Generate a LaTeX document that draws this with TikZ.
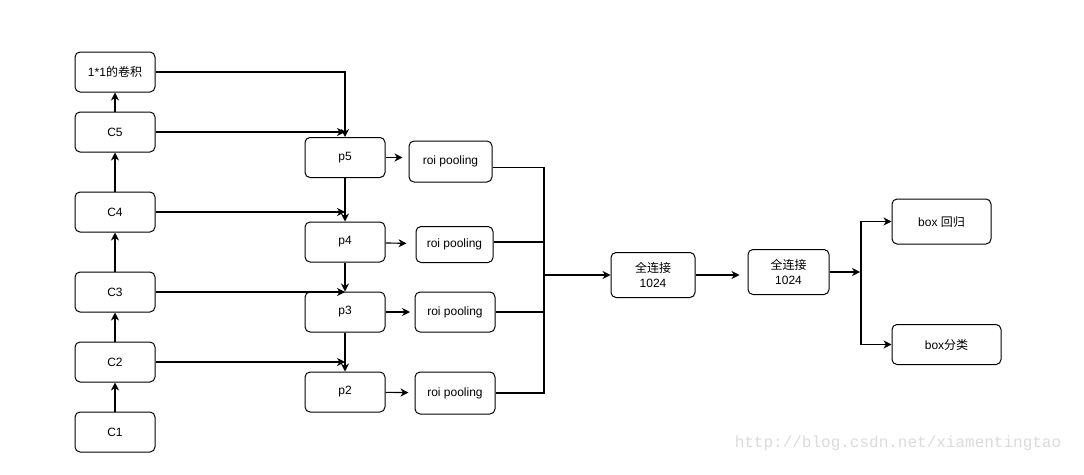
\documentclass[tikz,border=0pt]{standalone}
\usepackage{fontspec}
\setmainfont{Liberation Sans}
\newfontfamily\cjk{Noto Sans CJK SC}
\newfontfamily\wmfont{Liberation Mono}
\usetikzlibrary{arrows.meta}
\begin{document}
\begin{tikzpicture}[x=1pt,y=-1pt,
  box/.style={draw, line width=1pt, rounded corners=5pt, inner sep=0pt, align=center,
    font=\fontsize{12}{15}\selectfont},
  conn/.style={line width=1.1pt},
  arr/.style={line width=1.1pt, -{Stealth[length=8pt,width=8pt,inset=2.5pt]}}]
\fill[white] (0,0) rectangle (1084,474);
\useasboundingbox (0,0) rectangle (1084,474);
% left column
\node[box, minimum width=80pt, minimum height=40pt] (k)  at (115,72)  {1*1{\cjk 的卷积}};
\node[box, minimum width=80pt, minimum height=40pt] (c5) at (115,132) {C5};
\node[box, minimum width=80pt, minimum height=40pt] (c4) at (115,212) {C4};
\node[box, minimum width=80pt, minimum height=40pt] (c3) at (115,292) {C3};
\node[box, minimum width=80pt, minimum height=40pt] (c2) at (115,362) {C2};
\node[box, minimum width=80pt, minimum height=40pt] (c1) at (115,432) {C1};
% p column
\node[box, minimum width=80pt, minimum height=40pt] (p5) at (345,157.5) {p5};
\node[box, minimum width=80pt, minimum height=40pt] (p4) at (345,242) {p4};
\node[box, minimum width=80pt, minimum height=40pt] (p3) at (345,312) {p3};
\node[box, minimum width=80pt, minimum height=40pt] (p2) at (345,392) {p2};
% roi pooling
\node[box, minimum width=83pt, minimum height=41pt] (r5) at (450.5,161.5) {roi pooling};
\node[box, minimum width=77pt, minimum height=36pt] (r4) at (454.5,244.5) {roi pooling};
\node[box, minimum width=80pt, minimum height=40pt] (r3) at (455,312) {roi pooling};
\node[box, minimum width=80pt, minimum height=42pt] (r2) at (455,393) {roi pooling};
% fc
\node[box, minimum width=84pt, minimum height=45pt] (f1) at (653,275) {{\cjk 全连接}\\1024};
\node[box, minimum width=81pt, minimum height=45pt] (f2) at (788.5,272) {{\cjk 全连接}\\1024};
% outputs
\node[box, minimum width=99pt, minimum height=45pt] (b1) at (941.5,221.5) {box {\cjk 回归}};
\node[box, minimum width=109pt, minimum height=40pt] (b2) at (946.5,344.5) {box{\cjk 分类}};
% watermark
\node[font=\wmfont\fontsize{16}{18}\selectfont, text=black!14, inner sep=0pt] (wm) at (898,443) {http://blog.csdn.net/xiamentingtao};
\coordinate (m) at (544,275);
\coordinate (s) at (861,272);
% left column arrows
\draw[arr] (c1) -- (c2);
\draw[arr] (c2) -- (c3);
\draw[arr] (c3) -- (c4);
\draw[arr] (c4) -- (c5);
\draw[arr] (c5) -- (k);
% lateral
\draw[arr] (k.east) -| (p5.north);
\draw[arr] (c5.east) -- (c5.east -| p5.north);
\draw[arr] (c4.east) -- (c4.east -| p4.north);
\draw[arr] (c3.east) -- (c3.east -| p3.north);
\draw[arr] (c2.east) -- (c2.east -| p2.north);
% top-down
\draw[arr] (p5) -- (p4);
\draw[arr] (p4) -- (p3);
\draw[arr] (p3) -- (p2);
% p -> roi
\draw[arr, shorten >=6pt] (p5.east) -- (p5.east -| r5.west);
\draw[arr, shorten >=9pt] (p4) -- (r4);
\draw[arr, shorten >=4.5pt] (p3) -- (r3);
\draw[arr, shorten >=6pt] (p2) -- (r2);
% merge
\draw[conn] ([yshift=-6pt]r5.east) -| (m);
\draw[conn] (r2.east) -| (m);
\draw[conn] (r4.east |- 0,242) -- (m |- 0,242);
\draw[conn] (r3.east) -- (r3.east -| m);
\draw[arr] (m) -- (f1.west);
\draw[arr, shorten >=8pt] (f1.east) -- (f1.east -| f2.west);
\draw[arr, shorten >=1pt] (f2.east) -- (s);
\draw[arr] (s) |- (b1.west);
\draw[arr] (s) |- (b2.west);
\end{tikzpicture}
\end{document}
